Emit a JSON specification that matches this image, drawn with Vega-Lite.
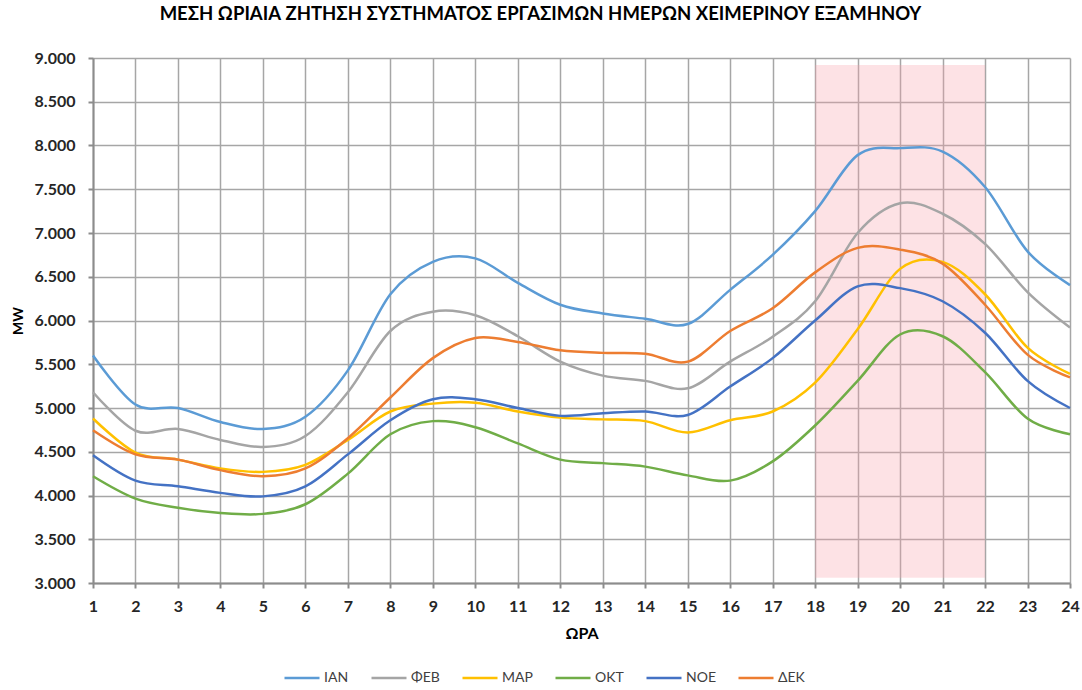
{
  "$schema": "https://vega.github.io/schema/vega-lite/v6.json",
  "width": 977,
  "height": 525,
  "autosize": {"type": "none"},
  "padding": {"left": 93, "top": 58, "right": 12, "bottom": 107},
  "background": "white",
  "config": {
    "locale": {"number": {"decimal": ",", "thousands": ".", "grouping": [3], "currency": ["", " €"]}},
    "font": "Lato",
    "view": {"stroke": null}
  },
  "title": {
    "text": "ΜΕΣΗ ΩΡΙΑΙΑ ΖΗΤΗΣΗ ΣΥΣΤΗΜΑΤΟΣ ΕΡΓΑΣΙΜΩΝ ΗΜΕΡΩΝ ΧΕΙΜΕΡΙΝΟΥ ΕΞΑΜΗΝΟΥ",
    "fontSize": 18.5,
    "fontWeight": "bold",
    "color": "#000000",
    "anchor": "middle",
    "dx": -41,
    "offset": 27
  },
  "datasets": {
    "peak": [{"start": 18, "end": 22, "low": 3060, "high": 8920}],
    "demand": [
      {"hour": 1, "month": "ΙΑΝ", "mw": 5600}, {"hour": 2, "month": "ΙΑΝ", "mw": 5040}, {"hour": 3, "month": "ΙΑΝ", "mw": 5000}, {"hour": 4, "month": "ΙΑΝ", "mw": 4840}, {"hour": 5, "month": "ΙΑΝ", "mw": 4760}, {"hour": 6, "month": "ΙΑΝ", "mw": 4900}, {"hour": 7, "month": "ΙΑΝ", "mw": 5430}, {"hour": 8, "month": "ΙΑΝ", "mw": 6300}, {"hour": 9, "month": "ΙΑΝ", "mw": 6670}, {"hour": 10, "month": "ΙΑΝ", "mw": 6710}, {"hour": 11, "month": "ΙΑΝ", "mw": 6430}, {"hour": 12, "month": "ΙΑΝ", "mw": 6180}, {"hour": 13, "month": "ΙΑΝ", "mw": 6080}, {"hour": 14, "month": "ΙΑΝ", "mw": 6020}, {"hour": 15, "month": "ΙΑΝ", "mw": 5960}, {"hour": 16, "month": "ΙΑΝ", "mw": 6350}, {"hour": 17, "month": "ΙΑΝ", "mw": 6750}, {"hour": 18, "month": "ΙΑΝ", "mw": 7250}, {"hour": 19, "month": "ΙΑΝ", "mw": 7890}, {"hour": 20, "month": "ΙΑΝ", "mw": 7970}, {"hour": 21, "month": "ΙΑΝ", "mw": 7930}, {"hour": 22, "month": "ΙΑΝ", "mw": 7525}, {"hour": 23, "month": "ΙΑΝ", "mw": 6790}, {"hour": 24, "month": "ΙΑΝ", "mw": 6405},
      {"hour": 1, "month": "ΦΕΒ", "mw": 5180}, {"hour": 2, "month": "ΦΕΒ", "mw": 4740}, {"hour": 3, "month": "ΦΕΒ", "mw": 4760}, {"hour": 4, "month": "ΦΕΒ", "mw": 4635}, {"hour": 5, "month": "ΦΕΒ", "mw": 4555}, {"hour": 6, "month": "ΦΕΒ", "mw": 4680}, {"hour": 7, "month": "ΦΕΒ", "mw": 5180}, {"hour": 8, "month": "ΦΕΒ", "mw": 5880}, {"hour": 9, "month": "ΦΕΒ", "mw": 6100}, {"hour": 10, "month": "ΦΕΒ", "mw": 6060}, {"hour": 11, "month": "ΦΕΒ", "mw": 5820}, {"hour": 12, "month": "ΦΕΒ", "mw": 5530}, {"hour": 13, "month": "ΦΕΒ", "mw": 5370}, {"hour": 14, "month": "ΦΕΒ", "mw": 5310}, {"hour": 15, "month": "ΦΕΒ", "mw": 5225}, {"hour": 16, "month": "ΦΕΒ", "mw": 5530}, {"hour": 17, "month": "ΦΕΒ", "mw": 5815}, {"hour": 18, "month": "ΦΕΒ", "mw": 6220}, {"hour": 19, "month": "ΦΕΒ", "mw": 7000}, {"hour": 20, "month": "ΦΕΒ", "mw": 7340}, {"hour": 21, "month": "ΦΕΒ", "mw": 7220}, {"hour": 22, "month": "ΦΕΒ", "mw": 6875}, {"hour": 23, "month": "ΦΕΒ", "mw": 6325}, {"hour": 24, "month": "ΦΕΒ", "mw": 5920},
      {"hour": 1, "month": "ΜΑΡ", "mw": 4880}, {"hour": 2, "month": "ΜΑΡ", "mw": 4490}, {"hour": 3, "month": "ΜΑΡ", "mw": 4410}, {"hour": 4, "month": "ΜΑΡ", "mw": 4310}, {"hour": 5, "month": "ΜΑΡ", "mw": 4270}, {"hour": 6, "month": "ΜΑΡ", "mw": 4350}, {"hour": 7, "month": "ΜΑΡ", "mw": 4635}, {"hour": 8, "month": "ΜΑΡ", "mw": 4960}, {"hour": 9, "month": "ΜΑΡ", "mw": 5050}, {"hour": 10, "month": "ΜΑΡ", "mw": 5060}, {"hour": 11, "month": "ΜΑΡ", "mw": 4960}, {"hour": 12, "month": "ΜΑΡ", "mw": 4890}, {"hour": 13, "month": "ΜΑΡ", "mw": 4870}, {"hour": 14, "month": "ΜΑΡ", "mw": 4850}, {"hour": 15, "month": "ΜΑΡ", "mw": 4720}, {"hour": 16, "month": "ΜΑΡ", "mw": 4860}, {"hour": 17, "month": "ΜΑΡ", "mw": 4960}, {"hour": 18, "month": "ΜΑΡ", "mw": 5290}, {"hour": 19, "month": "ΜΑΡ", "mw": 5900}, {"hour": 20, "month": "ΜΑΡ", "mw": 6590}, {"hour": 21, "month": "ΜΑΡ", "mw": 6670}, {"hour": 22, "month": "ΜΑΡ", "mw": 6300}, {"hour": 23, "month": "ΜΑΡ", "mw": 5690}, {"hour": 24, "month": "ΜΑΡ", "mw": 5390},
      {"hour": 1, "month": "ΟΚΤ", "mw": 4220}, {"hour": 2, "month": "ΟΚΤ", "mw": 3965}, {"hour": 3, "month": "ΟΚΤ", "mw": 3860}, {"hour": 4, "month": "ΟΚΤ", "mw": 3800}, {"hour": 5, "month": "ΟΚΤ", "mw": 3790}, {"hour": 6, "month": "ΟΚΤ", "mw": 3900}, {"hour": 7, "month": "ΟΚΤ", "mw": 4250}, {"hour": 8, "month": "ΟΚΤ", "mw": 4700}, {"hour": 9, "month": "ΟΚΤ", "mw": 4850}, {"hour": 10, "month": "ΟΚΤ", "mw": 4780}, {"hour": 11, "month": "ΟΚΤ", "mw": 4595}, {"hour": 12, "month": "ΟΚΤ", "mw": 4410}, {"hour": 13, "month": "ΟΚΤ", "mw": 4370}, {"hour": 14, "month": "ΟΚΤ", "mw": 4330}, {"hour": 15, "month": "ΟΚΤ", "mw": 4230}, {"hour": 16, "month": "ΟΚΤ", "mw": 4170}, {"hour": 17, "month": "ΟΚΤ", "mw": 4390}, {"hour": 18, "month": "ΟΚΤ", "mw": 4800}, {"hour": 19, "month": "ΟΚΤ", "mw": 5310}, {"hour": 20, "month": "ΟΚΤ", "mw": 5840}, {"hour": 21, "month": "ΟΚΤ", "mw": 5820}, {"hour": 22, "month": "ΟΚΤ", "mw": 5410}, {"hour": 23, "month": "ΟΚΤ", "mw": 4880}, {"hour": 24, "month": "ΟΚΤ", "mw": 4700},
      {"hour": 1, "month": "ΝΟΕ", "mw": 4460}, {"hour": 2, "month": "ΝΟΕ", "mw": 4170}, {"hour": 3, "month": "ΝΟΕ", "mw": 4105}, {"hour": 4, "month": "ΝΟΕ", "mw": 4030}, {"hour": 5, "month": "ΝΟΕ", "mw": 3990}, {"hour": 6, "month": "ΝΟΕ", "mw": 4105}, {"hour": 7, "month": "ΝΟΕ", "mw": 4470}, {"hour": 8, "month": "ΝΟΕ", "mw": 4860}, {"hour": 9, "month": "ΝΟΕ", "mw": 5100}, {"hour": 10, "month": "ΝΟΕ", "mw": 5100}, {"hour": 11, "month": "ΝΟΕ", "mw": 5000}, {"hour": 12, "month": "ΝΟΕ", "mw": 4910}, {"hour": 13, "month": "ΝΟΕ", "mw": 4940}, {"hour": 14, "month": "ΝΟΕ", "mw": 4960}, {"hour": 15, "month": "ΝΟΕ", "mw": 4920}, {"hour": 16, "month": "ΝΟΕ", "mw": 5245}, {"hour": 17, "month": "ΝΟΕ", "mw": 5570}, {"hour": 18, "month": "ΝΟΕ", "mw": 6000}, {"hour": 19, "month": "ΝΟΕ", "mw": 6390}, {"hour": 20, "month": "ΝΟΕ", "mw": 6370}, {"hour": 21, "month": "ΝΟΕ", "mw": 6220}, {"hour": 22, "month": "ΝΟΕ", "mw": 5860}, {"hour": 23, "month": "ΝΟΕ", "mw": 5310}, {"hour": 24, "month": "ΝΟΕ", "mw": 5000},
      {"hour": 1, "month": "ΔΕΚ", "mw": 4745}, {"hour": 2, "month": "ΔΕΚ", "mw": 4470}, {"hour": 3, "month": "ΔΕΚ", "mw": 4410}, {"hour": 4, "month": "ΔΕΚ", "mw": 4290}, {"hour": 5, "month": "ΔΕΚ", "mw": 4220}, {"hour": 6, "month": "ΔΕΚ", "mw": 4310}, {"hour": 7, "month": "ΔΕΚ", "mw": 4655}, {"hour": 8, "month": "ΔΕΚ", "mw": 5120}, {"hour": 9, "month": "ΔΕΚ", "mw": 5570}, {"hour": 10, "month": "ΔΕΚ", "mw": 5800}, {"hour": 11, "month": "ΔΕΚ", "mw": 5755}, {"hour": 12, "month": "ΔΕΚ", "mw": 5660}, {"hour": 13, "month": "ΔΕΚ", "mw": 5630}, {"hour": 14, "month": "ΔΕΚ", "mw": 5620}, {"hour": 15, "month": "ΔΕΚ", "mw": 5530}, {"hour": 16, "month": "ΔΕΚ", "mw": 5880}, {"hour": 17, "month": "ΔΕΚ", "mw": 6140}, {"hour": 18, "month": "ΔΕΚ", "mw": 6550}, {"hour": 19, "month": "ΔΕΚ", "mw": 6830}, {"hour": 20, "month": "ΔΕΚ", "mw": 6810}, {"hour": 21, "month": "ΔΕΚ", "mw": 6650}, {"hour": 22, "month": "ΔΕΚ", "mw": 6180}, {"hour": 23, "month": "ΔΕΚ", "mw": 5610}, {"hour": 24, "month": "ΔΕΚ", "mw": 5350}
    ]
  },
  "layer": [
    {
      "data": {"name": "peak"},
      "mark": {"type": "rect", "fill": "#f9a0aa", "opacity": 0.3},
      "encoding": {
        "x": {"field": "start", "type": "quantitative", "scale": {"domain": [1, 24], "nice": false}},
        "x2": {"field": "end"},
        "y": {"field": "low", "type": "quantitative", "scale": {"domain": [3000, 9000], "nice": false}},
        "y2": {"field": "high"}
      }
    },
    {
      "data": {"name": "demand"},
      "mark": {"type": "line", "interpolate": "cardinal", "strokeWidth": 2.5},
      "encoding": {
        "x": {
          "field": "hour", "type": "quantitative",
          "scale": {"domain": [1, 24], "nice": false},
          "axis": {
            "title": "ΩΡΑ", "titleFontSize": 16, "titleFontWeight": "bold", "titleColor": "#000000", "titlePadding": 11,
            "values": [1,2,3,4,5,6,7,8,9,10,11,12,13,14,15,16,17,18,19,20,21,22,23,24],
            "format": "d", "labelFlush": false,
            "labelFontSize": 16, "labelFontWeight": "bold", "labelColor": "#262626", "labelPadding": 10,
            "gridColor": "#a6a6a6", "gridWidth": 1.5, "gridOpacity": 1,
            "domainColor": "#8c8c8c", "domainWidth": 2,
            "tickColor": "#8c8c8c", "tickSize": 5, "tickWidth": 2
          }
        },
        "y": {
          "field": "mw", "type": "quantitative",
          "scale": {"domain": [3000, 9000], "nice": false},
          "axis": {
            "title": "MW", "titleFontSize": 14, "titleFontWeight": "bold", "titleColor": "#000000", "titlePadding": 9,
            "values": [3000,3500,4000,4500,5000,5500,6000,6500,7000,7500,8000,8500,9000],
            "format": ",.0f", "labelFlush": false,
            "labelFontSize": 16, "labelFontWeight": "bold", "labelColor": "#262626", "labelPadding": 13,
            "gridColor": "#a6a6a6", "gridWidth": 1.5, "gridOpacity": 1,
            "domainColor": "#8c8c8c", "domainWidth": 2,
            "tickColor": "#8c8c8c", "tickSize": 5, "tickWidth": 2
          }
        },
        "color": {
          "field": "month", "type": "nominal",
          "scale": {
            "domain": ["ΙΑΝ", "ΦΕΒ", "ΜΑΡ", "ΟΚΤ", "ΝΟΕ", "ΔΕΚ"],
            "range": ["#5b9bd5", "#a5a5a5", "#ffc000", "#70ad47", "#4472c4", "#ed7d31"]
          },
          "legend": {
            "title": null,
            "orient": "none",
            "direction": "horizontal",
            "legendX": 190,
            "legendY": 601,
            "symbolType": "stroke",
            "symbolSize": 1225,
            "symbolStrokeWidth": 2.5,
            "labelFontSize": 14,
            "labelColor": "#404040",
            "labelOffset": 3,
            "columnPadding": 17
          }
        }
      }
    }
  ]
}
